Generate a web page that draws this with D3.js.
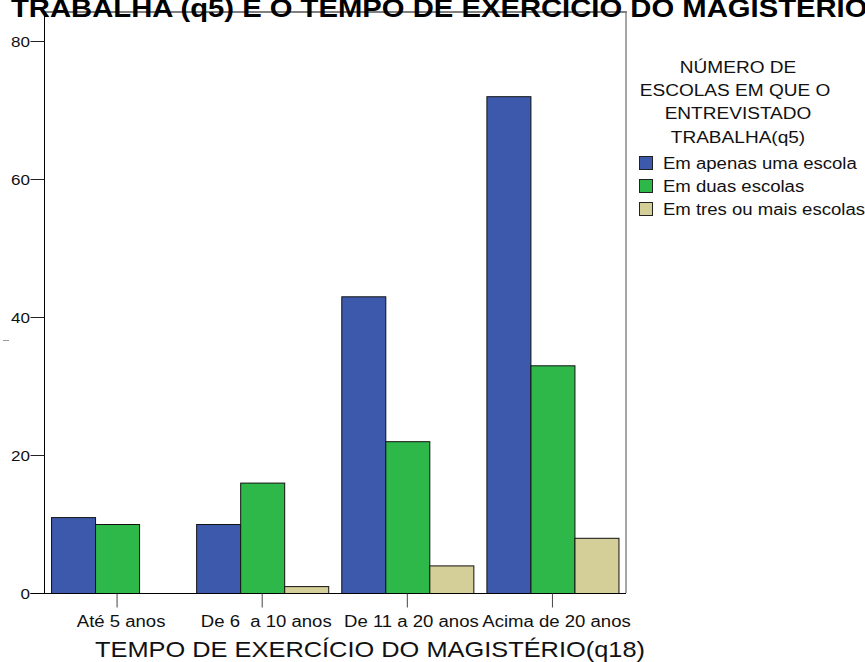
<!DOCTYPE html>
<html><head><meta charset="utf-8">
<script src="https://cdn.jsdelivr.net/npm/d3@7"></script>
<style>body{margin:0;background:#fff}svg{display:block;font-family:"Liberation Sans",Arial,sans-serif}text{white-space:pre}</style>
</head><body><svg id="c" width="865" height="662"></svg>
<script>
const categories = ["Até 5 anos", "De 6  a 10 anos", "De 11 a 20 anos", "Acima de 20 anos"];
const seriesNames = ["Em apenas uma escola", "Em duas escolas", "Em tres ou mais escolas"];
const umaEscola = [11, 10, 43, 72];
const duasEscolas = [10, 16, 22, 33];
const tresOuMais = [0, 1, 4, 8];
const yTicks = [0, 20, 40, 60, 80];
const colors = ["#3d59ab", "#2fb84a", "#d4ce98"];
const legendTitle = ["NÚMERO DE", "ESCOLAS EM QUE O", "ENTREVISTADO", "TRABALHA(q5)"];
const titleText = "TRABALHA (q5) E O TEMPO DE EXERCÍCIO DO MAGISTÉRIO";
const xTitle = "TEMPO DE EXERCÍCIO DO MAGISTÉRIO(q18)";

const series = [umaEscola, duasEscolas, tresOuMais];
const svg = d3.select("#c");
const K = 1.17; // horizontal glyph stretch seen in the reference
const L = 44.5, R = 625, B = 593, T = 12;
const x = d3.scaleBand().domain(categories).range([L, R]).paddingInner(0.09).paddingOuter(0.045);
const xs = d3.scaleBand().domain(seriesNames).range([0, x.bandwidth()]);
const y = d3.scaleLinear().domain([0, 80]).range([B, 41]);

function stext(parent, tx, ty, str, size, anchor, k, weight) {
  const g = parent.append("g").attr("transform", `translate(${tx},${ty}) scale(${k},1)`);
  return g.append("text").attr("font-size", size).attr("text-anchor", anchor || "start")
    .attr("font-weight", weight || "normal").attr("fill", "#111").text(str);
}

// frame
svg.append("line").attr("x1", L).attr("x2", R + 2).attr("y1", T).attr("y2", T).attr("stroke", "#000").attr("stroke-width", 1);
svg.append("line").attr("x1", R + 1).attr("x2", R + 1).attr("y1", T).attr("y2", B).attr("stroke", "#888").attr("stroke-width", 1.5);

// title (cut at the top like the reference)
{
  const tmp = svg.append("text").attr("font-size", 26).attr("font-weight", "bold").text(titleText);
  const w = tmp.node().getComputedTextLength(); tmp.remove();
  stext(svg, 11, 17, titleText, 26, "start", 857 / w, "bold").attr("fill", "#000");
}

// bars
const g = svg.append("g");
categories.forEach((c, i) => {
  series.forEach((s, j) => {
    const v = s[i];
    if (v <= 0) return;
    g.append("rect")
      .attr("x", x(c) + xs(seriesNames[j]) + 0.5)
      .attr("y", y(v) + 0.5)
      .attr("width", xs.bandwidth())
      .attr("height", y(0) - y(v))
      .attr("fill", colors[j]).attr("stroke", "#111").attr("stroke-width", 1);
  });
});

// y axis
const KY = 1.1;
const ya = svg.append("g").attr("transform", `translate(${L},0)`)
  .call(d3.axisLeft(y).tickValues(yTicks).tickSize(14).tickPadding(1));
ya.select(".domain").attr("d", `M0,${T}V${B + 0.5}`);
ya.selectAll(".tick line").attr("stroke", "#222");
ya.selectAll("text").attr("font-size", 15.5).attr("font-family", "Liberation Sans, Arial, sans-serif")
  .attr("fill", "#111").attr("x", -14.5 / KY).attr("dy", "0.36em").attr("transform", `scale(${KY},1)`);

// x axis baseline + ticks
svg.append("line").attr("x1", L - 14).attr("x2", R + 1).attr("y1", B + 0.5).attr("y2", B + 0.5).attr("stroke", "#000");
const xa = svg.append("g").attr("transform", `translate(0,${B + 0.5})`)
  .call(d3.axisBottom(x).tickSize(14).tickPadding(0));
xa.select(".domain").remove();
xa.selectAll(".tick line").attr("stroke", "#444");
xa.selectAll("text").attr("font-size", 15.6).attr("font-family", "Liberation Sans, Arial, sans-serif")
  .attr("fill", "#111").attr("dy", null).attr("y", 34).attr("x", 4 / K)
  .attr("transform", `scale(${K + 0.02},1)`).style("white-space", "pre");

// x axis title
{
  const tmp = svg.append("text").attr("font-size", 22).text(xTitle);
  const w = tmp.node().getComputedTextLength(); tmp.remove();
  stext(svg, 95, 657, xTitle, 22, "start", 550 / w);
}

// little mark on left
svg.append("line").attr("x1", 3).attr("x2", 9).attr("y1", 340.5).attr("y2", 340.5).attr("stroke", "#999");

// legend
const lg = svg.append("g");
legendTitle.forEach((t, i) => {
  stext(lg, i === 1 ? 735 : 738, 73 + i * 23.2, t, 16.3, "middle", K);
});
seriesNames.forEach((n, i) => {
  const yy = 156 + i * 23;
  lg.append("rect").attr("x", 639.5).attr("y", yy + 0.5).attr("width", 13).attr("height", 13)
    .attr("fill", colors[i]).attr("stroke", "#222");
  stext(lg, 663, yy + 13, n, 16, "start", 1.16);
});
</script></body></html>
